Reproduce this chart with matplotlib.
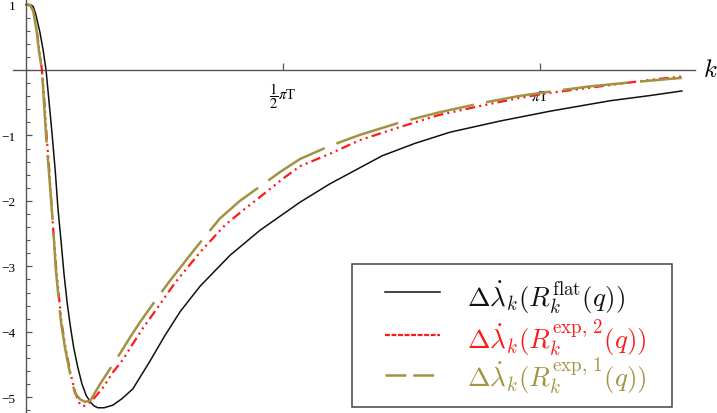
import numpy as np
import matplotlib
matplotlib.use("Agg")
import matplotlib.pyplot as plt
from matplotlib.lines import Line2D
from matplotlib.patches import Rectangle
from matplotlib.ticker import MultipleLocator

# k in units of pi*T
k_flat = [0.0, 0.008, 0.014, 0.019, 0.027, 0.033, 0.039, 0.045, 0.051, 0.057, 0.062, 0.068,
          0.074, 0.080, 0.086, 0.093, 0.101, 0.109, 0.117, 0.125, 0.132, 0.140, 0.152, 0.169,
          0.187, 0.208, 0.241, 0.270, 0.300, 0.339, 0.397, 0.455, 0.533, 0.591, 0.693, 0.757,
          0.825, 0.922, 1.019, 1.136, 1.214, 1.276]
dl_flat = [1.0, 1.0, 0.97, 0.85, 0.58, 0.32, 0.0, -0.5, -1.0, -1.55, -2.1, -2.6,
           -3.12, -3.55, -3.9, -4.25, -4.55, -4.8, -4.97, -5.07, -5.13, -5.16, -5.16, -5.12,
           -5.02, -4.87, -4.45, -4.06, -3.69, -3.30, -2.83, -2.45, -2.02, -1.74, -1.31, -1.12,
           -0.95, -0.78, -0.63, -0.47, -0.39, -0.32]

k_exp1 = [0.0, 0.008, 0.014, 0.021, 0.025, 0.031, 0.035, 0.039, 0.044, 0.049, 0.054, 0.058,
          0.063, 0.068, 0.076, 0.086, 0.095, 0.105, 0.115, 0.125, 0.144, 0.163, 0.183, 0.202,
          0.222, 0.251, 0.280, 0.329, 0.377, 0.416, 0.455, 0.494, 0.533, 0.591, 0.650, 0.728,
          0.802, 0.883, 0.957, 1.019, 1.097, 1.175, 1.276]
dl_exp1 = [1.0, 0.99, 0.9, 0.58, 0.3, 0.0, -0.5, -1.0, -1.5, -2.0, -2.55, -3.05,
           -3.45, -3.85, -4.25, -4.65, -4.93, -5.03, -5.07, -5.05, -4.80, -4.57, -4.33, -4.09,
           -3.85, -3.53, -3.22, -2.73, -2.27, -2.0, -1.78, -1.56, -1.36, -1.16, -0.99, -0.80,
           -0.65, -0.51, -0.40, -0.33, -0.25, -0.19, -0.12]

k_exp2 = [0.0, 0.008, 0.014, 0.021, 0.026, 0.031, 0.036, 0.040, 0.045, 0.049, 0.054, 0.059,
          0.064, 0.069, 0.077, 0.087, 0.096, 0.103, 0.111, 0.121, 0.134, 0.150, 0.169, 0.189,
          0.208, 0.227, 0.257, 0.290, 0.339, 0.387, 0.426, 0.465, 0.498, 0.533, 0.591, 0.650,
          0.728, 0.802, 0.883, 0.957, 1.019, 1.088, 1.156, 1.214, 1.276]
dl_exp2 = [1.0, 0.99, 0.92, 0.6, 0.3, 0.0, -0.5, -1.0, -1.5, -2.0, -2.55, -3.05,
           -3.45, -3.85, -4.25, -4.65, -4.93, -5.08, -5.14, -5.10, -5.0, -4.85, -4.62, -4.42,
           -4.18, -3.95, -3.62, -3.25, -2.78, -2.37, -2.12, -1.88, -1.67, -1.47, -1.28, -1.07,
           -0.87, -0.69, -0.55, -0.43, -0.35, -0.28, -0.21, -0.15, -0.10]

labels = [r"$\Delta\dot{\lambda}_k(R_k^{\mathrm{flat}}(q))$",
          r"$\Delta\dot{\lambda}_k(R_k^{\mathrm{exp,\,2}}(q))$",
          r"$\Delta\dot{\lambda}_k(R_k^{\mathrm{exp,\,1}}(q))$"]
xtick_pos = [0.5, 1.0]
xtick_labels = [r"$\dfrac{1}{2}\pi$T", r"$\pi$T"]

black = "#111111"
red = "#ff1a1a"
gold = "#a19342"

plt.rcParams["font.family"] = ["Liberation Serif", "DejaVu Serif"]
plt.rcParams["mathtext.fontset"] = "cm"
plt.rcParams["lines.scale_dashes"] = False

W, H = 717, 414
fig = plt.figure(figsize=(W / 100, H / 100), dpi=100)
ax = fig.add_axes([13 / W, 0, 682 / W, 1])

ax.plot(k_flat, dl_flat, color=black, lw=1.1)
ax.plot(k_exp2, dl_exp2, color=red, lw=1.6, dashes=(7, 3, 1.5, 3, 1.5, 3, 1.5, 3))
ax.plot(k_exp1, dl_exp1, color=gold, lw=1.8, dashes=(47, 9))

ax.set_xlim(-0.0253, 1.3016)
ax.set_ylim(-5.24, 1.085)

for s in ["top", "right"]:
    ax.spines[s].set_visible(False)
ax.spines["left"].set_position(("data", 0))
ax.spines["bottom"].set_position(("data", 0))
for s in ["left", "bottom"]:
    ax.spines[s].set_color("#555555")
    ax.spines[s].set_linewidth(1.0)

ax.set_yticks([1, -1, -2, -3, -4, -5])
ax.set_yticklabels(["1", "\u22121", "\u22122", "\u22123", "\u22124", "\u22125"])
ax.yaxis.set_minor_locator(MultipleLocator(0.2))
ax.tick_params(axis="y", which="major", direction="in", length=4.5, width=0.9,
               color="#555555", labelsize=9.5, pad=7.5)
ax.tick_params(axis="y", which="minor", direction="in", length=2.6, width=0.8,
               color="#555555")
ax.set_xticks(xtick_pos)
ax.set_xticklabels(xtick_labels)
ax.tick_params(axis="x", which="major", direction="in", length=5, width=0.9,
               color="#555555", labelsize=10.5, pad=18.5)
for t in ax.get_xticklabels():
    t.set_math_fontfamily("stix")
    t.set_verticalalignment("center")

fig.text(703 / W, 1 - 71 / H, r"$k$", fontsize=18, ha="left", va="center")

# legend box, drawn by hand to match the reference layout
fig.patches.append(Rectangle((352 / W, 1 - 408 / H), 320 / W, 143 / H,
                             transform=fig.transFigure, fill=True, facecolor="white",
                             edgecolor="#444444", lw=1.1, zorder=5))
styles = [dict(color=black, lw=1.1),
          dict(color=red, lw=1.6, dashes=(3.5, 1.2)),
          dict(color=gold, lw=1.8, dashes=(15, 5))]
line_y = [293, 336, 376]
text_y = [298, 339, 377]
for lab, st, ly, ty in zip(labels, styles, line_y, text_y):
    fig.add_artist(Line2D([385 / W, 440 / W], [1 - ly / H, 1 - ly / H],
                          transform=fig.transFigure, zorder=6, **st))
    fig.text(467 / W, 1 - ty / H, lab, fontsize=19.5, color=st["color"],
             ha="left", va="center", zorder=6)

fig.savefig("out.png", dpi=100)
